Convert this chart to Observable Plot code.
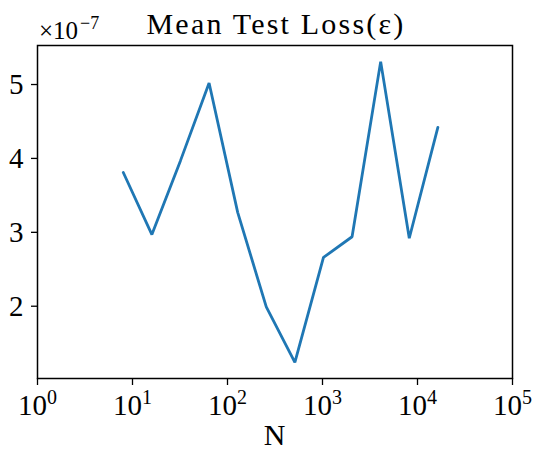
<!DOCTYPE html>
<html>
<head>
<meta charset="utf-8">
<script src="https://cdn.jsdelivr.net/npm/d3@7"></script>
<script src="https://cdn.jsdelivr.net/npm/@observablehq/plot@0.6"></script>
<style>
  body { margin: 0; background: #fff; }
  #chart { position: relative; width: 534px; height: 452px; }
</style>
</head>
<body>
<div id="chart"></div>
<script>
const N = [8, 16, 32, 64, 128, 256, 512, 1024, 2048, 4096, 8192, 16384];
const loss = [3.81, 2.97, 3.97, 5.02, 3.27, 1.99, 1.24, 2.66, 2.94, 5.31, 2.92, 4.42]; // ×1e-7
const xTicks = [1, 10, 100, 1000, 10000, 100000];
const xExponents = ["0", "1", "2", "3", "4", "5"];
const yTicks = [2, 3, 4, 5];
const titleText = "Mean Test Loss(ε)";
const xLabel = "N";
const offsetBase = "×10";
const offsetExp = "−7";

const data = N.map((n, i) => ({N: n, loss: loss[i]}));
const font = "'Liberation Serif', 'DejaVu Serif', serif";

const plot = Plot.plot({
  width: 534,
  height: 452,
  marginLeft: 37,
  marginRight: 22,
  marginTop: 45,
  marginBottom: 74,
  style: {fontFamily: font, fontSize: "28px", color: "#000", background: "#fff", overflow: "visible"},
  x: {type: "log", domain: [1, 1e5]},
  y: {domain: [1.022, 5.528]},
  marks: [
    Plot.axisX({ticks: xTicks, tickSize: 7, tickPadding: 9, tickFormat: d => "10", label: null, fontSize: 29, strokeWidth: 1.3}),
    Plot.axisY({ticks: yTicks, tickSize: 6, tickPadding: 8, tickFormat: d => String(d), label: null, fontSize: 29, strokeWidth: 1.3}),
    Plot.line(data, {x: "N", y: "loss", stroke: "#1f77b4", strokeWidth: 2.8, strokeLinejoin: "miter"}),
    Plot.frame({stroke: "#000", strokeWidth: 1.5})
  ]
});
document.getElementById("chart").appendChild(plot);

const svg = d3.select(plot);
// superscripts on x tick labels
svg.selectAll("g[aria-label='x-axis tick label'] text").each(function(d, i) {
  const t = d3.select(this);
  t.text("10");
  t.append("tspan").attr("dy", "-11px").attr("font-size", "20px").text(xExponents[i]);
});
// title
svg.append("text")
  .attr("x", 276).attr("y", 34)
  .attr("text-anchor", "middle")
  .attr("font-family", font).attr("font-size", 30)
  .attr("letter-spacing", "2.2px")
  .attr("fill", "#000")
  .text(titleText);
// x label
svg.append("text")
  .attr("x", 274.5).attr("y", 445)
  .attr("text-anchor", "middle")
  .attr("font-family", font).attr("font-size", 30)
  .attr("fill", "#000")
  .text(xLabel);
// offset label ×10^-7
const off = svg.append("text")
  .attr("x", 39).attr("y", 39)
  .attr("text-anchor", "start")
  .attr("font-family", font).attr("font-size", 25).attr("fill", "#000");
off.append("tspan").text(offsetBase);
off.append("tspan").attr("dy", "-10px").attr("font-size", "18px").attr("dx", "2px").text(offsetExp);
</script>
</body>
</html>
